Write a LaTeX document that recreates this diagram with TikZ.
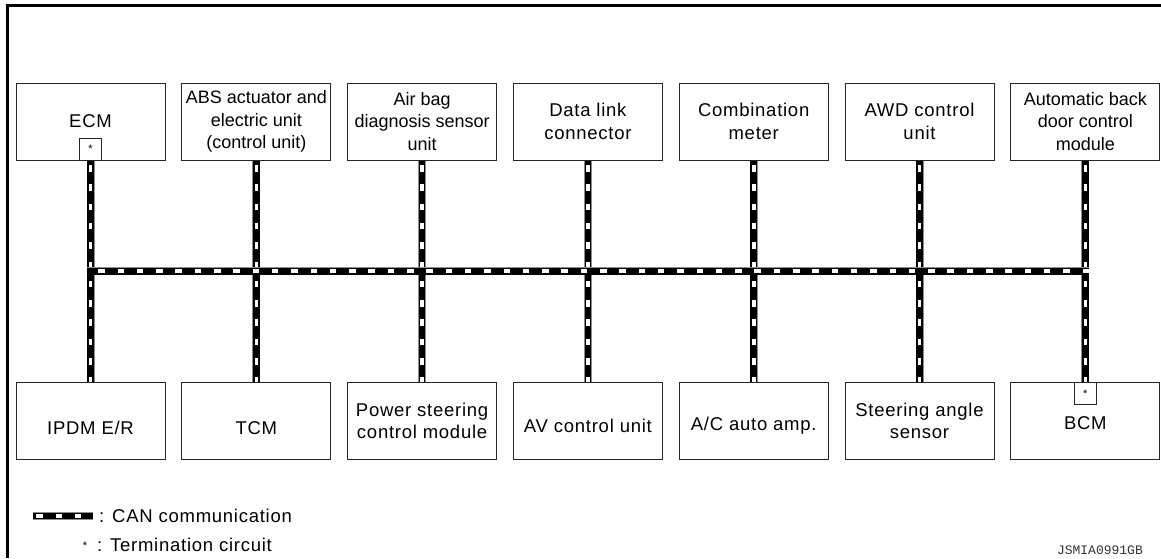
\documentclass[tikz,border=0pt]{standalone}
\usepackage{fontspec}
\setmainfont{Liberation Sans}[LetterSpace=4]
\newfontfamily\plainfont{Liberation Sans}
\newfontfamily\codefont{Liberation Mono}
\usetikzlibrary{calc}
\newcommand{\lowered}[2]{\raisebox{-#1pt}[0pt][0pt]{#2}}
\tikzset{
  unitbox/.style={draw=black!85, line width=1pt, minimum width=149pt, minimum height=77pt,
    inner sep=0pt, align=center, font=\fontsize{18.5}{22.5}\selectfont},
  tightbox/.style={unitbox, font=\plainfont\fontsize{18}{22.5}\selectfont},
  termbox/.style={draw=black!85, line width=1pt, fill=white, minimum width=22pt, minimum height=22pt,
    inner sep=0pt, font=\plainfont\fontsize{11}{11}\selectfont},
  can/.style={draw=black, line width=6.5pt,
    preaction={draw=black!45, line width=8pt},
    postaction={draw=white, line width=3.6pt, dash pattern=on 6.5pt off 12.8pt, dash phase=#1}},
  can/.default=14.8,
  legtext/.style={anchor=base west, inner sep=0pt, font=\fontsize{18.5}{22}\selectfont},
}
\begin{document}
\begin{tikzpicture}[x=1pt,y=-1pt]
\useasboundingbox (0,0) rectangle (1161,558);
% frame
\draw[line width=3pt] (7.5,558) -- (7.5,5.5) -- (1161,5.5);

% top row
\node[unitbox] (ecm) at (90.5,121.5) {ECM};
\node[tightbox] (abs) at (256.3,121.5) {ABS actuator and\\electric unit\\(control unit)};
\node[tightbox] (air) at (422.1,121.5) {Air bag\\diagnosis sensor\\unit};
\node[unitbox] (dlc) at (587.9,121.5) {Data link\\connector};
\node[unitbox] (cmb) at (753.7,121.5) {Combination\\meter};
\node[unitbox] (awd) at (919.5,121.5) {AWD control\\unit};
\node[tightbox] (abd) at (1085.3,121.5) {Automatic back\\door control\\module};

% bottom row
\node[unitbox] (ipdm) at (90.5,421) {\lowered{13}{IPDM E/R}};
\node[unitbox] (tcm) at (256.3,421) {\lowered{13}{TCM}};
\node[unitbox] (eps) at (422.1,421) {Power steering\\control module};
\node[unitbox] (av) at (587.9,421) {\lowered{11}{AV control unit}};
\node[unitbox] (ac) at (753.7,421) {\lowered{9}{A/C auto amp.}};
\node[unitbox] (sas) at (919.5,421) {Steering angle\\sensor};
\node[unitbox] (bcm) at (1085.3,421) {\lowered{8}{BCM}};

% termination circuits
\node[termbox, anchor=south] (ecmT) at (ecm.south) {*};
\node[termbox, anchor=north] (bcmT) at (bcm.north) {*};

% CAN bus lines
\draw[can] (ecmT.south) -- (ipdm.north);
\draw[can] (abs.south) -- (tcm.north);
\draw[can] (air.south) -- (eps.north);
\draw[can] (dlc.south) -- (av.north);
\draw[can] (cmb.south) -- (ac.north);
\draw[can] (awd.south) -- (sas.north);
\draw[can] (abd.south) -- (bcmT.north);
\coordinate (busL) at ($(ecm.south)!0.5!(ipdm.north)$);
\coordinate (busR) at ($(abd.south)!0.5!(bcm.north)$);
\draw[can=8.3, shorten <=-3.3pt, shorten >=-3.3pt] (busL) -- (busR);

% legend
\coordinate (legA) at (33,516);
\coordinate (legB) at (93,516);
\draw[can=16] (legA) -- (legB);
\node[legtext] (legcan) at (99,522) {: CAN communication};
\node[inner sep=0pt, font=\plainfont\fontsize{11}{11}\selectfont] (legstar) at (85,546) {*};
\node[legtext] (legterm) at (97,551) {: Termination circuit};

% code
\node[anchor=base east, inner sep=0pt, text=black!80, font=\codefont\fontsize{13}{13}\selectfont] (code) at (1143,554) {JSMIA0991GB};
\end{tikzpicture}
\end{document}
